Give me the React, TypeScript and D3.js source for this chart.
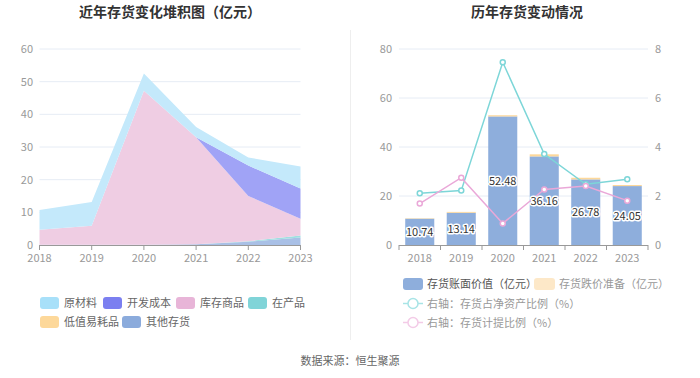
import React from "react";
import * as d3 from "d3";

const years = ["2018", "2019", "2020", "2021", "2022", "2023"];
// Stack series (亿元), bottom to top
const otherInv = [0.05, 0.05, 0.1, 0.2, 1.0, 2.3];
const wip = [0.0, 0.0, 0.0, 0.05, 0.15, 0.6];
const lowValue = [0.0, 0.0, 0.0, 0.0, 0.0, 0.0];
const goods = [4.65, 5.85, 47.1, 32.75, 13.85, 5.1];
const devCost = [0, 0, 0, 0, 9.3, 9.3];
const rawMat = [6.04, 7.24, 5.28, 3.16, 2.48, 6.75];

const bookValue = [10.74, 13.14, 52.48, 36.16, 26.78, 24.05];
const impairment = [0.18, 0.37, 0.48, 0.85, 0.67, 0.44];
const ratioNetAsset = [2.11, 2.22, 7.46, 3.71, 2.48, 2.68];
const ratioProvision = [1.69, 2.75, 0.88, 2.27, 2.41, 1.81];

const leftTicks = [0, 10, 20, 30, 40, 50, 60];
const rightTicksL = [0, 20, 40, 60, 80];
const rightTicksR = [0, 2, 4, 6, 8];

const FONT = "'Noto Sans CJK SC', 'Noto Sans', sans-serif";

const stackSeries = [
  { name: "其他存货", data: otherInv, fill: "#a9c0e6" },
  { name: "在产品", data: wip, fill: "#9fdfe1" },
  { name: "低值易耗品", data: lowValue, fill: "#fde3b5" },
  { name: "库存商品", data: goods, fill: "#efcde3" },
  { name: "开发成本", data: devCost, fill: "#a0a3f6" },
  { name: "原材料", data: rawMat, fill: "#c4e9fb" },
];

const leftLegend = [
  { name: "原材料", color: "#a8e0f9", x: 40, y: 303 },
  { name: "开发成本", color: "#7b7ff0", x: 103, y: 303 },
  { name: "库存商品", color: "#e8b5d8", x: 176, y: 303 },
  { name: "在产品", color: "#80d4d8", x: 248, y: 303 },
  { name: "低值易耗品", color: "#fdd89a", x: 40, y: 322 },
  { name: "其他存货", color: "#8babdc", x: 122, y: 322 },
];

export default function App() {
  // Left chart scales
  const lx = d3.scalePoint<string>().domain(years).range([39.5, 300.5]);
  const ly = d3.scaleLinear().domain([0, 60]).range([245, 49]);

  const rows = years.map((y, i) => {
    const o: any = { year: y };
    stackSeries.forEach((s) => (o[s.name] = s.data[i]));
    return o;
  });
  const stacked = d3.stack<any>().keys(stackSeries.map((s) => s.name))(rows);
  const area = d3
    .area<any>()
    .x((d) => lx(d.data.year)!)
    .y0((d) => ly(d[0]))
    .y1((d) => ly(d[1]));

  // Right chart scales
  const rx = d3.scaleBand<string>().domain(years).range([399, 648]).paddingInner(0.3).paddingOuter(0.15);
  const ryL = d3.scaleLinear().domain([0, 80]).range([245, 49]);
  const ryR = d3.scaleLinear().domain([0, 8]).range([245, 49]);
  const cx = (y: string) => rx(y)! + rx.bandwidth() / 2;
  const line = d3
    .line<number>()
    .x((_, i) => cx(years[i]))
    .y((d) => ryR(d));

  return (
    <svg width={700} height={378} style={{ display: "block", position: "absolute", left: 0, top: 0 }} fontFamily={FONT}>
      <rect width={700} height={378} fill="#fff" />
      {/* titles */}
      <text x={170} y={17} textAnchor="middle" fontSize={14} fontWeight="bold" fill="#333">
        近年存货变化堆积图（亿元）
      </text>
      <text x={527} y={17} textAnchor="middle" fontSize={14} fontWeight="bold" fill="#333">
        历年存货变动情况
      </text>
      <line x1={350.5} x2={350.5} y1={30} y2={340} stroke="#eee" />

      {/* Left chart */}
      {leftTicks.map((t) => (
        <g key={t}>
          {t > 0 && <line x1={39.5} x2={300.5} y1={ly(t)} y2={ly(t)} stroke="#e6ecf5" />}
          <text x={33} y={ly(t) + 4} textAnchor="end" fontSize={11} fill="#999">
            {t}
          </text>
        </g>
      ))}
      {stacked.map((s, i) => (
        <path key={s.key} d={area(s)!} fill={stackSeries[i].fill} />
      ))}
      <line x1={39.5} x2={300.5} y1={245.5} y2={245.5} stroke="#999" />
      {years.map((y) => (
        <g key={y}>
          <line x1={lx(y)!} x2={lx(y)!} y1={245} y2={250} stroke="#999" />
          <text x={lx(y)!} y={262} textAnchor="middle" fontSize={11} fill="#999">
            {y}
          </text>
        </g>
      ))}
      {leftLegend.map((l) => (
        <g key={l.name}>
          <rect x={l.x} y={l.y - 6} width={19} height={12} rx={3} fill={l.color} />
          <text x={l.x + 24} y={l.y + 4} fontSize={11} fill="#666">
            {l.name}
          </text>
        </g>
      ))}

      {/* Right chart */}
      {rightTicksL.map((t, i) => (
        <g key={t}>
          {t > 0 && <line x1={399} x2={648} y1={ryL(t)} y2={ryL(t)} stroke="#e6ecf5" />}
          <text x={392} y={ryL(t) + 4} textAnchor="end" fontSize={11} fill="#999">
            {t}
          </text>
          <text x={655} y={ryR(rightTicksR[i]) + 4} textAnchor="start" fontSize={11} fill="#999">
            {rightTicksR[i]}
          </text>
        </g>
      ))}
      {years.map((y, i) => (
        <g key={y}>
          <rect x={rx(y)!} y={ryL(bookValue[i])} width={rx.bandwidth()} height={245 - ryL(bookValue[i])} fill="#8eaedc" />
          <rect
            x={rx(y)!}
            y={ryL(bookValue[i] + impairment[i])}
            width={rx.bandwidth()}
            height={ryL(bookValue[i]) - ryL(bookValue[i] + impairment[i])}
            fill="#fdd89a"
          />
        </g>
      ))}
      <line x1={399} x2={648} y1={245.5} y2={245.5} stroke="#999" />
      {years.map((y, i) => (
        <g key={y}>
          <line x1={rx(y)! - rx.step() * 0.15} x2={rx(y)! - rx.step() * 0.15} y1={245} y2={250} stroke="#999" />
          <text x={cx(y)} y={262} textAnchor="middle" fontSize={11} fill="#999">
            {y}
          </text>
        </g>
      ))}
      <line x1={648} x2={648} y1={245} y2={250} stroke="#999" />
      <path d={line(ratioNetAsset)!} fill="none" stroke="#7dd6d8" strokeWidth={1.5} />
      <path d={line(ratioProvision)!} fill="none" stroke="#eaa8d8" strokeWidth={1.5} />
      {ratioNetAsset.map((v, i) => (
        <circle key={"a" + i} cx={cx(years[i])} cy={ryR(v)} r={2.5} fill="#fff" stroke="#7dd6d8" strokeWidth={1.5} />
      ))}
      {ratioProvision.map((v, i) => (
        <circle key={"b" + i} cx={cx(years[i])} cy={ryR(v)} r={2.5} fill="#fff" stroke="#eaa8d8" strokeWidth={1.5} />
      ))}
      {years.map((y, i) => (
        <text
          key={"l" + y}
          x={cx(y)}
          y={(245 + ryL(bookValue[i])) / 2 + 4}
          textAnchor="middle"
          fontSize={11}
          fill="#333"
          stroke="#fff"
          strokeWidth={3}
          paintOrder="stroke"
          strokeLinejoin="round"
        >
          {bookValue[i].toFixed(2)}
        </text>
      ))}

      {/* Right legend */}
      <rect x={403} y={278} width={20} height={12} rx={3} fill="#8eaedc" />
      <text x={427} y={288} fontSize={11} fill="#555">存货账面价值（亿元）</text>
      <rect x={534} y={278} width={21} height={12} rx={3} fill="#fde8c8" />
      <text x={559} y={288} fontSize={11} fill="#999">存货跌价准备（亿元）</text>
      <line x1={403} x2={423} y1={303.5} y2={303.5} stroke="#a8e4e6" strokeWidth={1.5} />
      <circle cx={413} cy={303.5} r={5} fill="#fff" stroke="#a8e4e6" strokeWidth={1.5} />
      <text x={427} y={307.5} fontSize={11} fill="#999">右轴：存货占净资产比例（%）</text>
      <line x1={403} x2={423} y1={322.5} y2={322.5} stroke="#f3cbe7" strokeWidth={1.5} />
      <circle cx={413} cy={322.5} r={5} fill="#fff" stroke="#f3cbe7" strokeWidth={1.5} />
      <text x={427} y={326.5} fontSize={11} fill="#999">右轴：存货计提比例（%）</text>

      <text x={350} y={365} textAnchor="middle" fontSize={11} fill="#666">
        数据来源：恒生聚源
      </text>
    </svg>
  );
}
